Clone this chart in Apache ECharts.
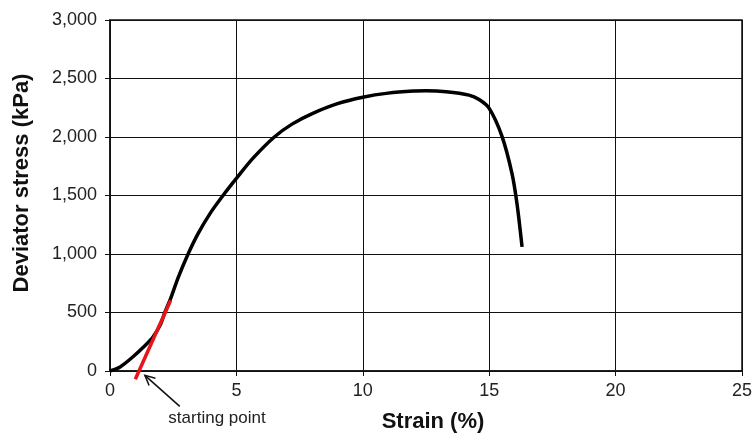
<!DOCTYPE html>
<html style="height: 100%">
<head>
    <meta charset="utf-8">
</head>
<body style="height: 100%; margin: 0; background: #fff">
    <div id="container" style="width: 755px; height: 435px"></div>
    <script src="https://cdn.jsdelivr.net/npm/echarts@6/dist/echarts.min.js"></script>
    <script type="text/javascript">
        // strain (%) and deviator stress (kPa)
        var strain = [0, 0.4, 0.9, 1.4, 1.7, 2.0, 2.17, 2.4, 2.7, 3.09, 3.5, 4.0, 4.47, 5.0, 5.65, 6.5, 7.2, 8.0, 9.0, 10.0, 11.0, 12.0, 12.5, 13.3, 14.2, 14.6, 15.0, 15.5, 15.9, 16.1, 16.3];
        var stress = [0, 35, 120, 220, 290, 400, 500, 620, 800, 1000, 1180, 1360, 1500, 1646, 1817, 2000, 2110, 2200, 2285, 2340, 2375, 2393, 2395, 2387, 2358, 2320, 2245, 2010, 1690, 1430, 1061];

        // red tangent line giving the starting point
        var tangentX = [1.0, 2.4];
        var tangentY = [-70, 605];

        // arrow pointing at the starting point (head, tail)
        var arrowX = [1.38, 2.76];
        var arrowY = [-37, -302];

        var xTicks = [0, 5, 10, 15, 20, 25];
        var yTicks = [0, 500, 1000, 1500, 2000, 2500, 3000];

        var dom = document.getElementById("container");
        var myChart = echarts.init(dom, null, { renderer: 'canvas' });

        var font = 'Liberation Sans, Arial, sans-serif';

        var option = {
            animation: false,
            backgroundColor: '#fff',
            grid: {
                left: 110,
                right: 11,
                top: 20,
                bottom: 64,
                show: true,
                borderColor: '#111',
                borderWidth: 1.5
            },
            xAxis: {
                type: 'value',
                min: xTicks[0],
                max: xTicks[xTicks.length - 1],
                interval: 5,
                axisLine: { show: true, lineStyle: { color: '#111', width: 1.5 } },
                axisTick: { show: true, length: 5, lineStyle: { color: '#111' } },
                splitLine: { show: true, lineStyle: { color: '#111', width: 1 } },
                axisLabel: { color: '#222', fontSize: 18, fontFamily: font, margin: 11 }
            },
            yAxis: {
                type: 'value',
                min: yTicks[0],
                max: yTicks[yTicks.length - 1],
                interval: 500,
                axisLine: { show: true, lineStyle: { color: '#111', width: 1.5 } },
                axisTick: { show: true, length: 5, lineStyle: { color: '#111' } },
                splitLine: { show: true, lineStyle: { color: '#111', width: 1 } },
                axisLabel: {
                    color: '#222', fontSize: 18, fontFamily: font, margin: 13,
                    formatter: function (v) { return v.toLocaleString('en-US'); }
                }
            },
            series: [{
                name: 'curve',
                type: 'line',
                data: strain.map(function (x, i) { return [x, stress[i]]; }),
                smooth: 0.3,
                showSymbol: false,
                lineStyle: { color: '#000', width: 3.5 },
                z: 3
            }, {
                name: 'tangent',
                type: 'line',
                clip: false,
                data: tangentX.map(function (x, i) { return [x, tangentY[i]]; }),
                showSymbol: false,
                lineStyle: { color: '#e8141c', width: 3.5 },
                z: 4
            }]
        };

        myChart.setOption(option);

        // arrow and titles; arrow ends go through the chart's own scales
        var head = myChart.convertToPixel({ gridIndex: 0 }, [arrowX[0], arrowY[0]]);
        var tail = myChart.convertToPixel({ gridIndex: 0 }, [arrowX[1], arrowY[1]]);
        var ang = Math.atan2(tail[1] - head[1], tail[0] - head[0]);
        var len = 11, spread = 0.45;
        var wing1 = [head[0] + len * Math.cos(ang + spread), head[1] + len * Math.sin(ang + spread)];
        var wing2 = [head[0] + len * Math.cos(ang - spread), head[1] + len * Math.sin(ang - spread)];

        myChart.setOption({
            graphic: [{
                type: 'line',
                shape: { x1: head[0], y1: head[1], x2: tail[0], y2: tail[1] },
                style: { stroke: '#111', lineWidth: 1.5 }
            }, {
                type: 'polyline',
                shape: { points: [wing1, head, wing2] },
                style: { stroke: '#111', lineWidth: 1.5, fill: null }
            }, {
                type: 'text',
                x: 22, y: 183,
                rotation: Math.PI / 2,
                style: {
                    text: 'Deviator stress (kPa)',
                    font: 'bold 22px ' + font,
                    fill: '#111',
                    textAlign: 'center',
                    textVerticalAlign: 'middle'
                }
            }, {
                type: 'text',
                x: 433, y: 422,
                style: {
                    text: 'Strain (%)',
                    font: 'bold 22px ' + font,
                    fill: '#111',
                    textAlign: 'center',
                    textVerticalAlign: 'middle'
                }
            }, {
                type: 'text',
                x: 217, y: 418,
                style: {
                    text: 'starting point',
                    font: '17px ' + font,
                    fill: '#222',
                    textAlign: 'center',
                    textVerticalAlign: 'middle'
                }
            }]
        });
    </script>
</body>
</html>
